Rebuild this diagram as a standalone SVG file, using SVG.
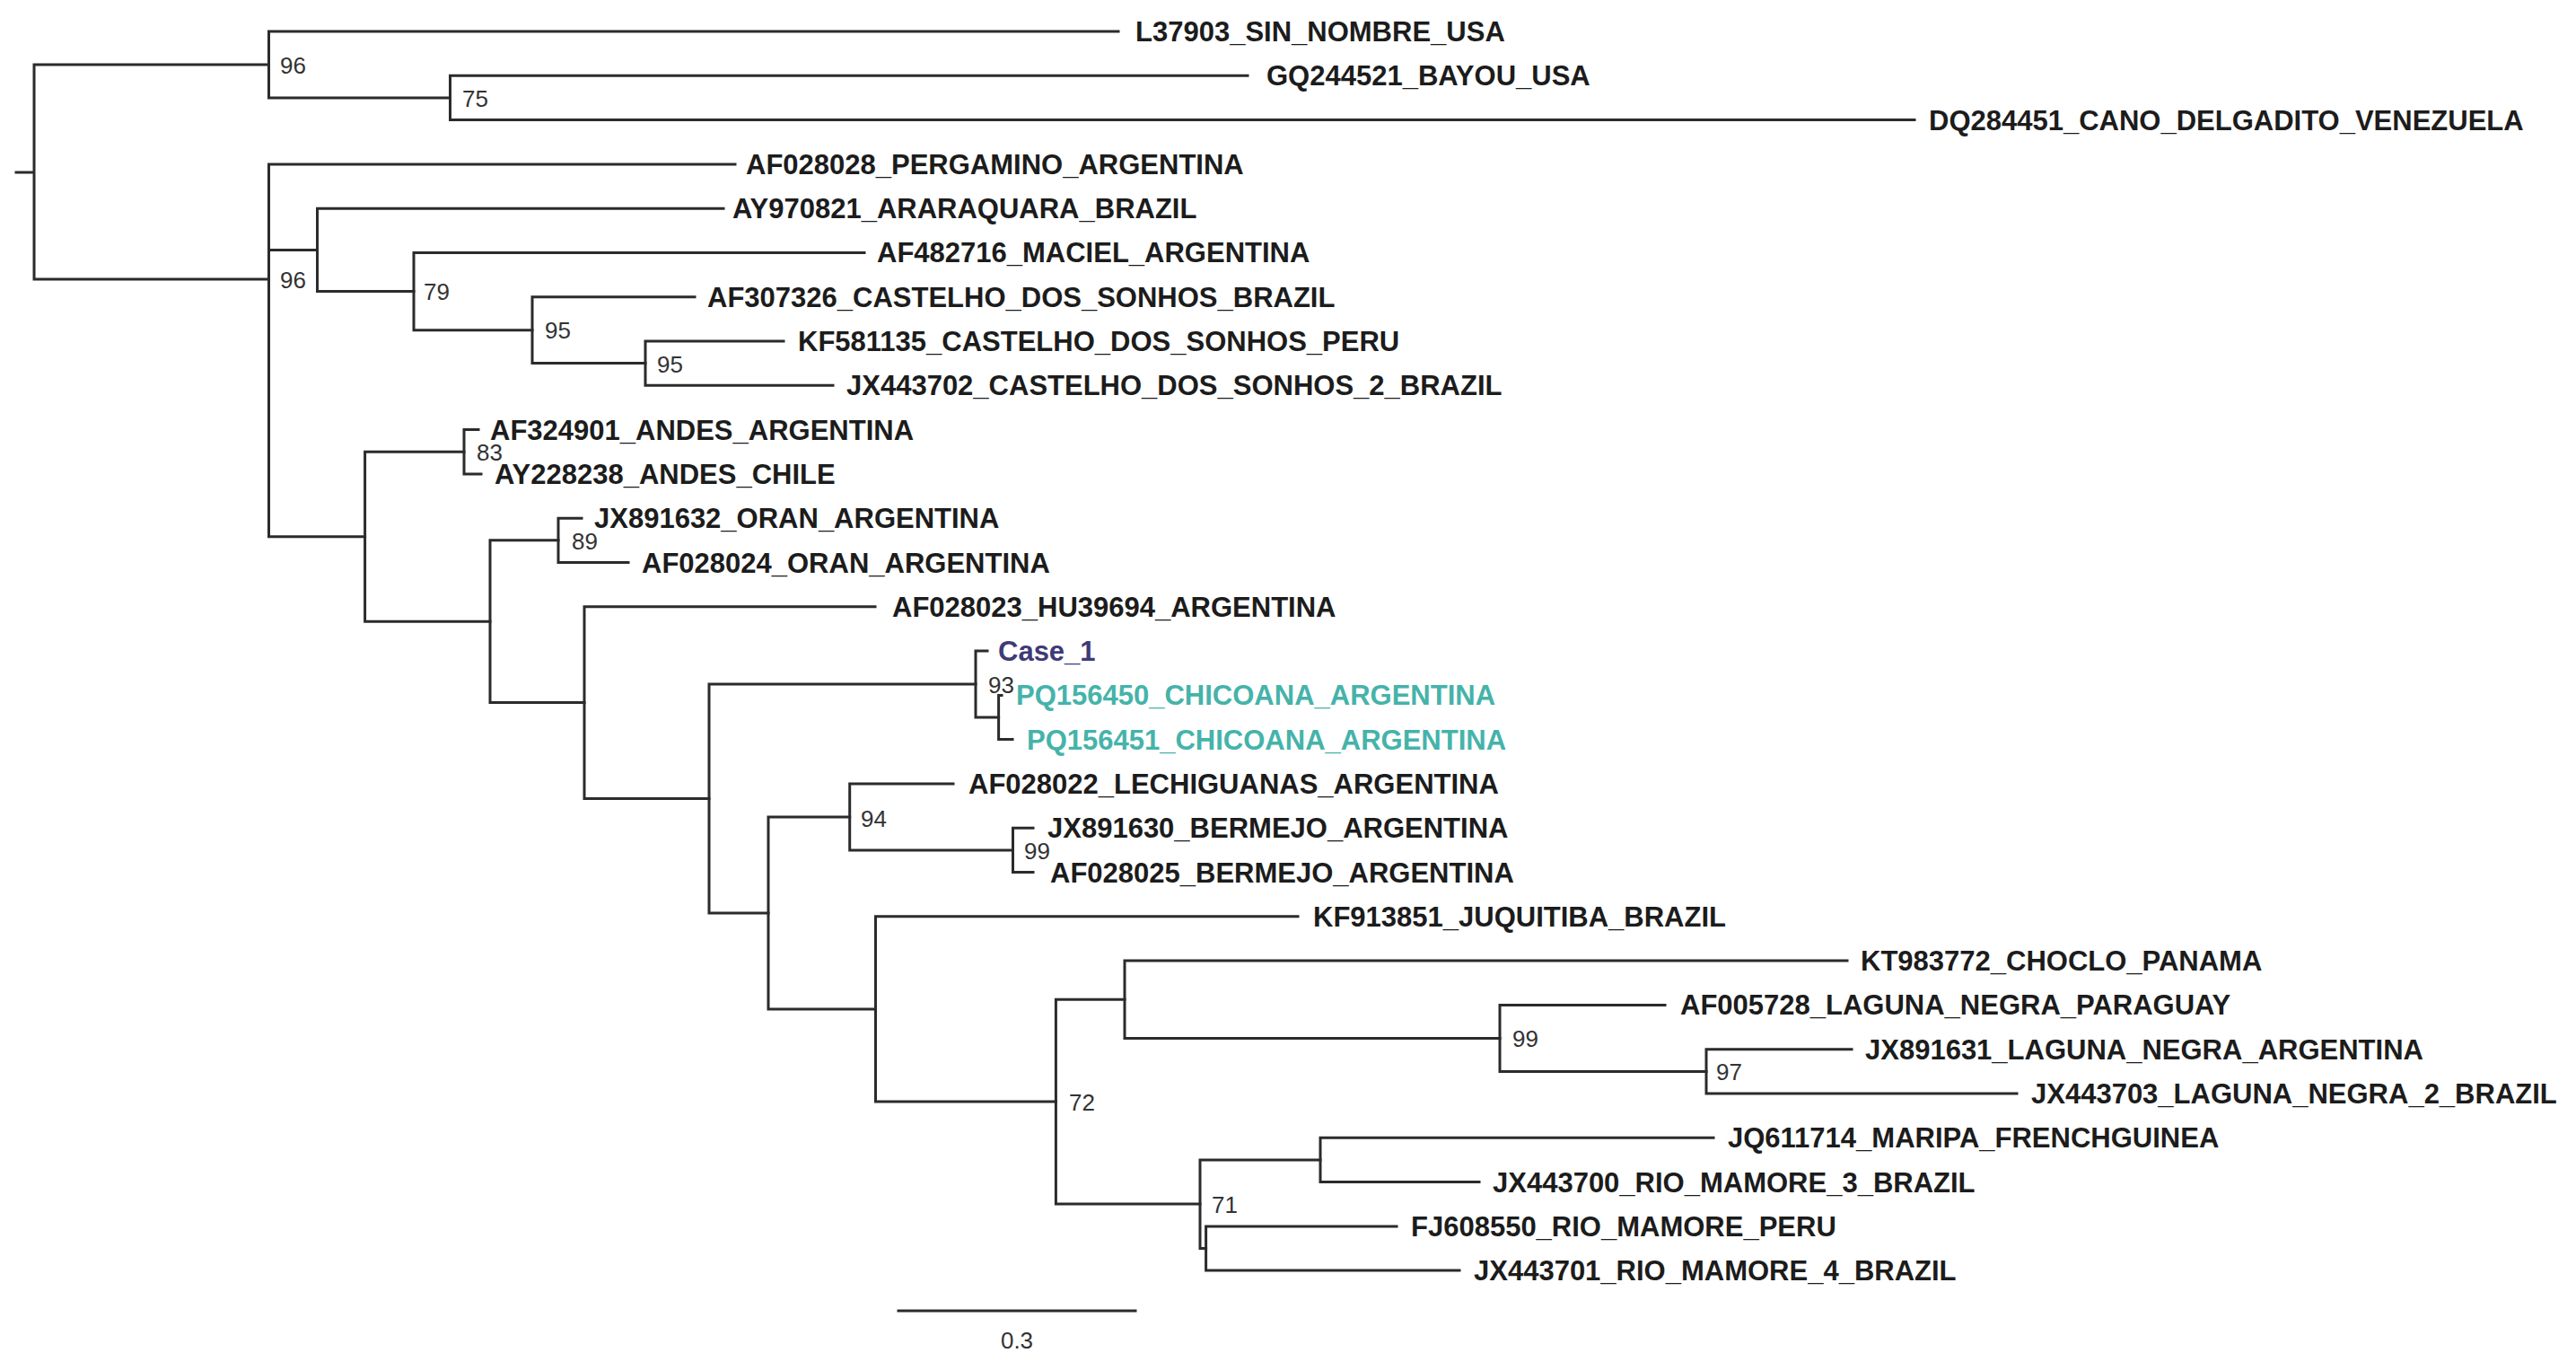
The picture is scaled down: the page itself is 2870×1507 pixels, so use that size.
<svg xmlns="http://www.w3.org/2000/svg" width="2870" height="1507" viewBox="0 0 2870 1507">
<style>
.br{fill:none;stroke:#2b2b2b;stroke-width:3;stroke-linecap:square;stroke-linejoin:miter}
.tip{font-family:"Liberation Sans",Arial,sans-serif;font-weight:bold;font-size:31px;fill:#1c1c1c}
.sup{font-family:"Liberation Sans",Arial,sans-serif;font-size:26px;fill:#333}
.case{fill:#3f3a78}
.pq{fill:#45b3aa}
</style>
<rect width="2870" height="1507" fill="#fff"/>
<g id="connectors">
<path class="br" d="M18,192 H38 M299.5,72 H38 V311 H299.5"/>
<path class="br" d="M1246,35 H299.5 V109 H501.5"/>
<path class="br" d="M1390,84.3 H501.5 V133.6 H2133"/>
<path class="br" d="M819,182.9 H299.5 V597.8 H406.6 M299.5,278.4 H353.5"/>
<path class="br" d="M806,232.2 H353.5 V324.5 H461"/>
<path class="br" d="M963,281.4 H461 V367.7 H593"/>
<path class="br" d="M774,330.7 H593 V404.6 H719"/>
<path class="br" d="M873,380 H719 V429.3 H928"/>
<path class="br" d="M517,503.3 H406.6 V692.2 H546"/>
<path class="br" d="M533,478.6 H517 V527.9 H536"/>
<path class="br" d="M622,601.8 H546 V782.6 H651"/>
<path class="br" d="M648,577.2 H622 V626.5 H700"/>
<path class="br" d="M975,675.8 H651 V889.5 H790"/>
<path class="br" d="M1087,762 H790 V1017 H856"/>
<path class="br" d="M1100,725.1 H1087 V799 H1112.6"/>
<path class="br" d="M1116,774.4 H1112.6 V823.6 H1128"/>
<path class="br" d="M946.7,909.9 H856 V1124 H975.5"/>
<path class="br" d="M1062,872.9 H946.7 V946.9 H1128.5"/>
<path class="br" d="M1151,922.2 H1128.5 V971.5 H1151"/>
<path class="br" d="M1446,1020.8 H975.5 V1227 H1176.4"/>
<path class="br" d="M1253,1113.2 H1176.4 V1341 H1337"/>
<path class="br" d="M2058,1070.1 H1253 V1156.4 H1671"/>
<path class="br" d="M1855,1119.4 H1671 V1193.4 H1901"/>
<path class="br" d="M2063,1168.7 H1901 V1218 H2247"/>
<path class="br" d="M1471,1292 H1337 V1390.5 H1343.6"/>
<path class="br" d="M1909,1267.3 H1471 V1316.6 H1648"/>
<path class="br" d="M1556,1365.9 H1343.6 V1415.1 H1626"/>
</g>
<g id="tips">
<g id="tip0"><text class="tip" x="1265" y="46">L37903_SIN_NOMBRE_USA</text></g>
<g id="tip1"><text class="tip" x="1411" y="95.3">GQ244521_BAYOU_USA</text></g>
<g id="tip2"><text class="tip" x="2149" y="144.6">DQ284451_CANO_DELGADITO_VENEZUELA</text></g>
<g id="tip3"><text class="tip" x="831" y="193.9">AF028028_PERGAMINO_ARGENTINA</text></g>
<g id="tip4"><text class="tip" x="816" y="243.2">AY970821_ARARAQUARA_BRAZIL</text></g>
<g id="tip5"><text class="tip" x="977" y="292.4">AF482716_MACIEL_ARGENTINA</text></g>
<g id="tip6"><text class="tip" x="788" y="341.7">AF307326_CASTELHO_DOS_SONHOS_BRAZIL</text></g>
<g id="tip7"><text class="tip" x="889" y="391">KF581135_CASTELHO_DOS_SONHOS_PERU</text></g>
<g id="tip8"><text class="tip" x="943" y="440.3">JX443702_CASTELHO_DOS_SONHOS_2_BRAZIL</text></g>
<g id="tip9"><text class="tip" x="546" y="489.6">AF324901_ANDES_ARGENTINA</text></g>
<g id="tip10"><text class="tip" x="551" y="538.9">AY228238_ANDES_CHILE</text></g>
<g id="tip11"><text class="tip" x="662" y="588.2">JX891632_ORAN_ARGENTINA</text></g>
<g id="tip12"><text class="tip" x="715" y="637.5">AF028024_ORAN_ARGENTINA</text></g>
<g id="tip13"><text class="tip" x="994" y="686.8">AF028023_HU39694_ARGENTINA</text></g>
<g id="tip14"><text class="tip case" x="1112" y="736.1">Case_1</text></g>
<g id="tip15"><text class="tip pq" x="1132" y="785.4">PQ156450_CHICOANA_ARGENTINA</text></g>
<g id="tip16"><text class="tip pq" x="1144" y="834.6">PQ156451_CHICOANA_ARGENTINA</text></g>
<g id="tip17"><text class="tip" x="1079" y="883.9">AF028022_LECHIGUANAS_ARGENTINA</text></g>
<g id="tip18"><text class="tip" x="1167" y="933.2">JX891630_BERMEJO_ARGENTINA</text></g>
<g id="tip19"><text class="tip" x="1170" y="982.5">AF028025_BERMEJO_ARGENTINA</text></g>
<g id="tip20"><text class="tip" x="1463" y="1031.8">KF913851_JUQUITIBA_BRAZIL</text></g>
<g id="tip21"><text class="tip" x="2073" y="1081.1">KT983772_CHOCLO_PANAMA</text></g>
<g id="tip22"><text class="tip" x="1872" y="1130.4">AF005728_LAGUNA_NEGRA_PARAGUAY</text></g>
<g id="tip23"><text class="tip" x="2078" y="1179.7">JX891631_LAGUNA_NEGRA_ARGENTINA</text></g>
<g id="tip24"><text class="tip" x="2263" y="1229">JX443703_LAGUNA_NEGRA_2_BRAZIL</text></g>
<g id="tip25"><text class="tip" x="1925" y="1278.3">JQ611714_MARIPA_FRENCHGUINEA</text></g>
<g id="tip26"><text class="tip" x="1663" y="1327.6">JX443700_RIO_MAMORE_3_BRAZIL</text></g>
<g id="tip27"><text class="tip" x="1572" y="1376.9">FJ608550_RIO_MAMORE_PERU</text></g>
<g id="tip28"><text class="tip" x="1642" y="1426.1">JX443701_RIO_MAMORE_4_BRAZIL</text></g>
</g>
<g id="supports">
<g id="node-top"><text class="sup" x="312" y="82">96</text></g>
<g id="node-75"><text class="sup" x="515" y="119">75</text></g>
<g id="node-96b"><text class="sup" x="312" y="321">96</text></g>
<g id="node-79"><text class="sup" x="472" y="334">79</text></g>
<g id="node-95a"><text class="sup" x="607" y="377">95</text></g>
<g id="node-95b"><text class="sup" x="732" y="415">95</text></g>
<g id="node-83"><text class="sup" x="531" y="513">83</text></g>
<g id="node-89"><text class="sup" x="637" y="612">89</text></g>
<g id="node-93"><text class="sup" x="1101" y="772">93</text></g>
<g id="node-94"><text class="sup" x="959" y="921">94</text></g>
<g id="node-99a"><text class="sup" x="1141" y="957">99</text></g>
<g id="node-99b"><text class="sup" x="1685" y="1166">99</text></g>
<g id="node-97"><text class="sup" x="1912" y="1203">97</text></g>
<g id="node-72"><text class="sup" x="1191" y="1237">72</text></g>
<g id="node-71"><text class="sup" x="1350" y="1351">71</text></g>
</g>
<g id="scale-bar">
<path class="br" d="M1001,1460 H1265"/>
<text class="sup" x="1133" y="1502" text-anchor="middle">0.3</text>
</g>
</svg>
